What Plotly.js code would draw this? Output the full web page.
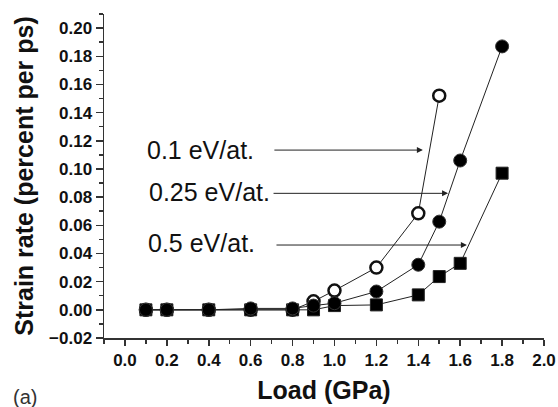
<!DOCTYPE html>
<html>
<head>
<meta charset="utf-8">
<script src="https://cdn.plot.ly/plotly-3.0.1.min.js"></script>
<style>html,body{margin:0;padding:0;background:#fff;}#chart{width:558px;height:407px;}</style>
</head>
<body>
<div id="chart"></div>
<script>
// Data
const load01 = [0.1, 0.2, 0.4, 0.6, 0.8, 0.9, 1.0, 1.2, 1.4, 1.5];
const rate01 = [0.0, 0.0, 0.0, 0.0, 0.0, 0.006, 0.0137, 0.030, 0.0685, 0.152];

const load025 = [0.1, 0.2, 0.4, 0.6, 0.8, 0.9, 1.0, 1.2, 1.4, 1.5, 1.6, 1.8];
const rate025 = [0.0, 0.0, 0.0, 0.001, 0.001, 0.003, 0.0047, 0.013, 0.032, 0.0626, 0.106, 0.187];

const load05 = [0.1, 0.2, 0.4, 0.6, 0.8, 0.9, 1.0, 1.2, 1.4, 1.5, 1.6, 1.8];
const rate05 = [0.0, 0.0, 0.0, 0.0, 0.0, 0.0, 0.003, 0.0035, 0.0106, 0.0236, 0.033, 0.097];

const labels = ["0.1 eV/at.", "0.25 eV/at.", "0.5 eV/at."];

const FONT = "Arial, 'Liberation Sans', Helvetica, sans-serif";
const INK = "#111111";

const traces = [
  {
    x: load01, y: rate01, mode: "lines+markers", name: labels[0],
    line: {color: "#222", width: 1},
    marker: {symbol: "circle", size: 12, color: "#ffffff", line: {color: "#111", width: 2.5}}
  },
  {
    x: load05, y: rate05, mode: "lines+markers", name: labels[2],
    line: {color: "#222", width: 1},
    marker: {symbol: "square", size: 12, color: "#000", line: {color: "#222", width: 1}}
  },
  {
    x: load025, y: rate025, mode: "lines+markers", name: labels[1],
    line: {color: "#222", width: 1},
    marker: {symbol: "circle", size: 13, color: "#000", line: {color: "#333", width: 1}}
  }
];

const annotations = [
  {x: 0.095, y: 0.1134, xref: "x", yref: "y", text: labels[0], showarrow: false,
   xanchor: "left", yanchor: "middle", font: {family: FONT, size: 25, color: INK}},
  {x: 0.105, y: 0.0838, xref: "x", yref: "y", text: labels[1], showarrow: false,
   xanchor: "left", yanchor: "middle", font: {family: FONT, size: 25, color: INK}},
  {x: 0.100, y: 0.0475, xref: "x", yref: "y", text: labels[2], showarrow: false,
   xanchor: "left", yanchor: "middle", font: {family: FONT, size: 25, color: INK}},
  {x: 1.422, y: 0.1134, ax: 0.706, ay: 0.1134, xref: "x", yref: "y", axref: "x", ayref: "y",
   text: "", showarrow: true, arrowhead: 2, arrowsize: 1.2, arrowwidth: 1, arrowcolor: "#222", standoff: 0},
  {x: 1.542, y: 0.0827, ax: 0.702, ay: 0.0827, xref: "x", yref: "y", axref: "x", ayref: "y",
   text: "", showarrow: true, arrowhead: 2, arrowsize: 1.2, arrowwidth: 1, arrowcolor: "#222", standoff: 0},
  {x: 1.632, y: 0.046, ax: 0.716, ay: 0.046, xref: "x", yref: "y", axref: "x", ayref: "y",
   text: "", showarrow: true, arrowhead: 2, arrowsize: 1.2, arrowwidth: 1, arrowcolor: "#222", standoff: 0},
  {x: (25 - 104) / 440, y: -(397 - 338) / 324, xref: "paper", yref: "paper", text: "(a)", showarrow: false,
   xanchor: "center", yanchor: "middle", font: {family: FONT, size: 20, color: "#333"}}
];

const layout = {
  width: 558, height: 407,
  margin: {l: 104, r: 14, t: 14, b: 69},
  paper_bgcolor: "#fff", plot_bgcolor: "#fff",
  showlegend: false,
  font: {family: FONT, color: INK},
  xaxis: {
    range: [-0.1, 2.0], tick0: 0, dtick: 0.2, tickformat: ".1f",
    ticks: "outside", ticklen: 6, tickwidth: 1.5, tickcolor: "#333",
    minor: {dtick: 0.1, tick0: 0, ticks: "outside", ticklen: 4, tickwidth: 1.5, tickcolor: "#333"},
    showline: true, linecolor: "#333", linewidth: 1.5, mirror: false,
    showgrid: false, zeroline: false,
    tickfont: {family: FONT, size: 17, weight: "bold", color: INK},
    title: {text: "Load (GPa)", font: {family: FONT, size: 25, weight: "bold", color: INK}, standoff: 12}
  },
  yaxis: {
    range: [-0.02, 0.21], tick0: 0, dtick: 0.02, tickformat: ".2f",
    ticks: "outside", ticklen: 7, tickwidth: 1.5, tickcolor: "#333",
    minor: {dtick: 0.01, tick0: 0, ticks: "outside", ticklen: 4, tickwidth: 1.5, tickcolor: "#333"},
    showline: true, linecolor: "#333", linewidth: 1.5, mirror: false,
    showgrid: false, zeroline: false,
    tickfont: {family: FONT, size: 17, weight: "bold", color: INK},
    title: {text: "Strain rate (percent per ps)", font: {family: FONT, size: 25, weight: "bold", color: INK}, standoff: 8}
  },
  annotations: annotations
};

Plotly.newPlot("chart", traces, layout, {displayModeBar: false, staticPlot: true});
</script>
</body>
</html>
